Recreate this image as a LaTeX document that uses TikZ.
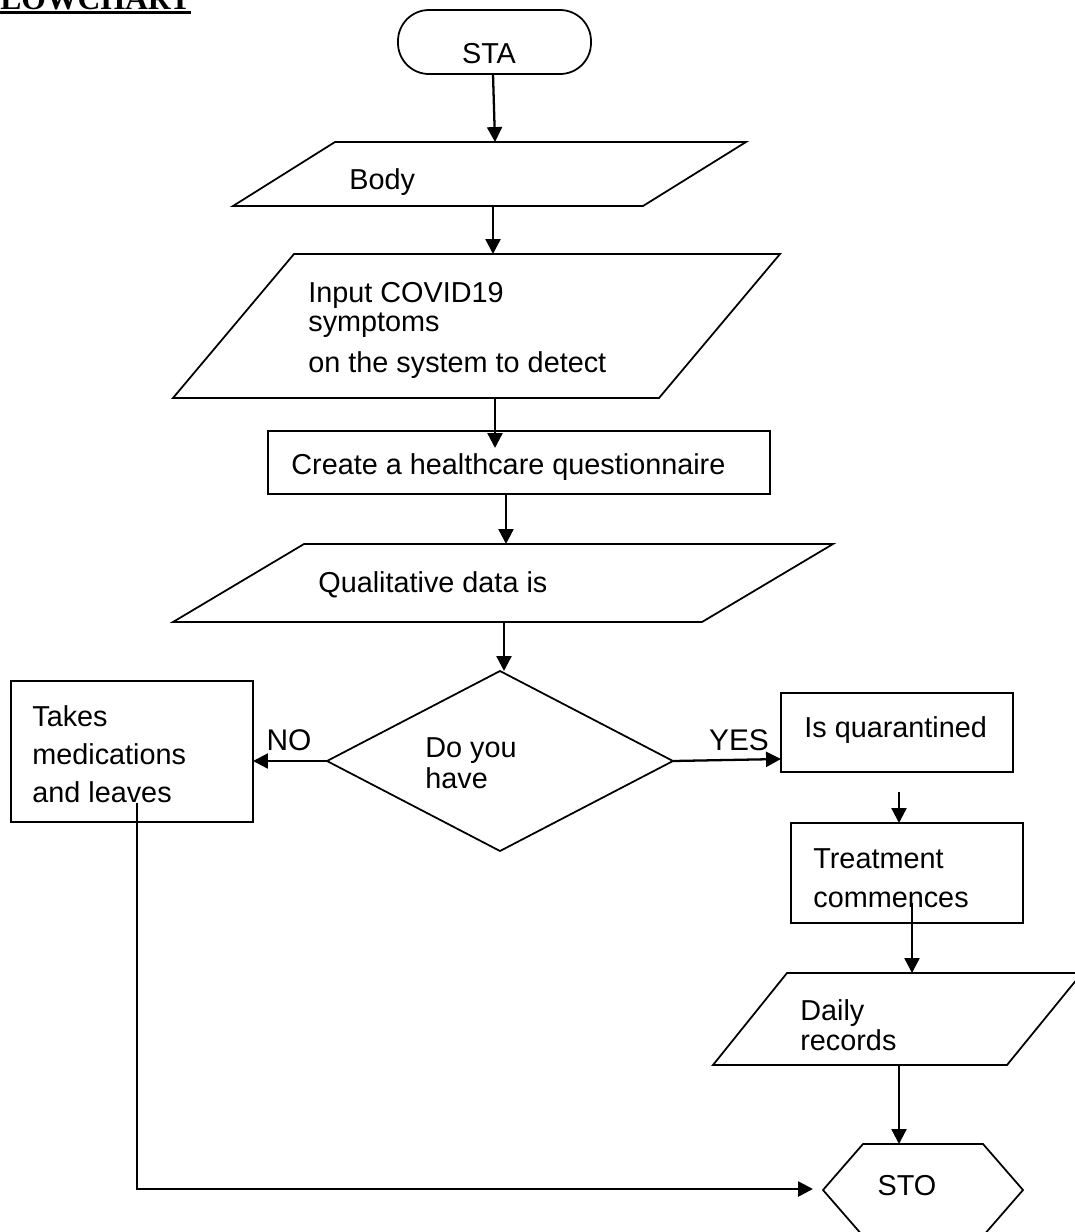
\documentclass[tikz,border=0pt]{standalone}
\usepackage{fontspec}
\setmainfont{Liberation Sans}
\newfontfamily\titlefont{Liberation Serif}
\usetikzlibrary{arrows.meta}

\newcommand{\fs}[1]{\fontsize{16.4}{#1}\selectfont}

\begin{document}
\begin{tikzpicture}[x=0.02cm, y=-0.02cm,
    shape line/.style = {line width=1pt},
    arr/.style = {line width=1.3pt, -{Triangle[width=8.5pt, length=8.5pt]}},
    txt/.style = {anchor=base west, inner sep=0pt, align=left},
    lbl/.style = {anchor=base, inner sep=0pt, font=\fontsize{17}{20}\selectfont}]
  \useasboundingbox (0,0) rectangle (1075,1232);
  % heading, cut at the top
  \node[anchor=base west, inner sep=0pt,
    font=\titlefont\bfseries\fontsize{18}{20}\selectfont] (title) at (0,9)
    {\setbox0\hbox{LOWCHART}\rlap{\rule[-2.6pt]{\wd0}{1.4pt}}\box0};
  % outlines
  \draw[shape line, rounded corners=0.62cm] (398,10) rectangle (591,74);
  \draw[shape line] (335,142) -- (746,142) -- (643,206) -- (233,206) -- cycle;
  \draw[shape line] (294,254) -- (780,254) -- (659,398) -- (173,398) -- cycle;
  \draw[shape line] (268,431) rectangle (770,494);
  \draw[shape line] (304,544) -- (833,544) -- (702,622) -- (173,622) -- cycle;
  \draw[shape line] (500,671) -- (673,761) -- (500,851) -- (327,761) -- cycle;
  \draw[shape line] (11,681) rectangle (253,822);
  \draw[shape line] (781,693) rectangle (1013,772);
  \draw[shape line] (791,823) rectangle (1023,923);
  \draw[shape line] (787,973) -- (1082,973) -- (1007,1065) -- (713,1065) -- cycle;
  \draw[shape line] (863,1144) -- (983,1144) -- (1023,1190) -- (983,1236)
    -- (863,1236) -- (823,1190) -- cycle;
  % texts (base = last line)
  \node[lbl, font=\fs{20pt}] (sta) at (489,63) {STA};
  \node[txt, font=\fs{20pt}] (body) at (349,189) {Body};
  \node[txt, font=\fs{16.4pt}] (input) at (308,372)
    {Input COVID19\\symptoms\\[6.8pt]on the system to detect};
  \node[txt, font=\fs{20pt}] (create) at (291,474) {Create a healthcare questionnaire};
  \node[txt, font=\fs{20pt}] (qual) at (318,592) {Qualitative data is};
  \node[txt, font=\fs{17.6pt}] (ask) at (425,788) {Do you\\have};
  \node[lbl] (no) at (289,750) {NO};
  \node[lbl] (yes) at (739,750) {YES};
  \node[txt, font=\fs{21.5pt}] (meds) at (32,802) {Takes\\medications\\and leaves};
  \node[txt, font=\fs{20pt}] (quar) at (804,737) {Is quarantined};
  \node[txt, font=\fs{22.1pt}] (treat) at (813,907) {Treatment\\commences};
  \node[txt, font=\fs{17pt}] (daily) at (800,1050) {Daily\\records};
  \node[lbl, font=\fs{20pt}] (sto) at (907,1195) {STO};
  % ends of the connectors
  \coordinate (sta-s) at (493,74);   \coordinate (body-n) at (495,142);
  \coordinate (body-s) at (493,206); \coordinate (input-n) at (493,254);
  \coordinate (input-s) at (495,398); \coordinate (create-n) at (495,448);
  \coordinate (create-s) at (506,494); \coordinate (qual-n) at (506,544);
  \coordinate (qual-s) at (504,622); \coordinate (ask-n) at (504,671);
  \coordinate (ask-w) at (327,761); \coordinate (meds-e) at (253,761);
  \coordinate (ask-e) at (673,761); \coordinate (quar-w) at (781,759);
  \coordinate (quar-s) at (899,792); \coordinate (treat-n) at (899,823);
  \coordinate (treat-s) at (912,903); \coordinate (daily-n) at (912,973);
  \coordinate (daily-s) at (899,1065); \coordinate (sto-n) at (899,1144);
  \coordinate (meds-s) at (137,803); \coordinate (sto-w) at (813,1189);
  % connectors
  \draw[arr] (sta-s) -- (body-n);
  \draw[arr] (body-s) -- (input-n);
  \draw[arr] (input-s) -- (create-n);
  \draw[arr] (create-s) -- (qual-n);
  \draw[arr] (qual-s) -- (ask-n);
  \draw[arr] (ask-w) -- (meds-e);
  \draw[arr] (ask-e) -- (quar-w);
  \draw[arr] (quar-s) -- (treat-n);
  \draw[arr] (treat-s) -- (daily-n);
  \draw[arr] (daily-s) -- (sto-n);
  \draw[arr, line width=1.5pt] (meds-s) |- (sto-w);
\end{tikzpicture}
\end{document}
